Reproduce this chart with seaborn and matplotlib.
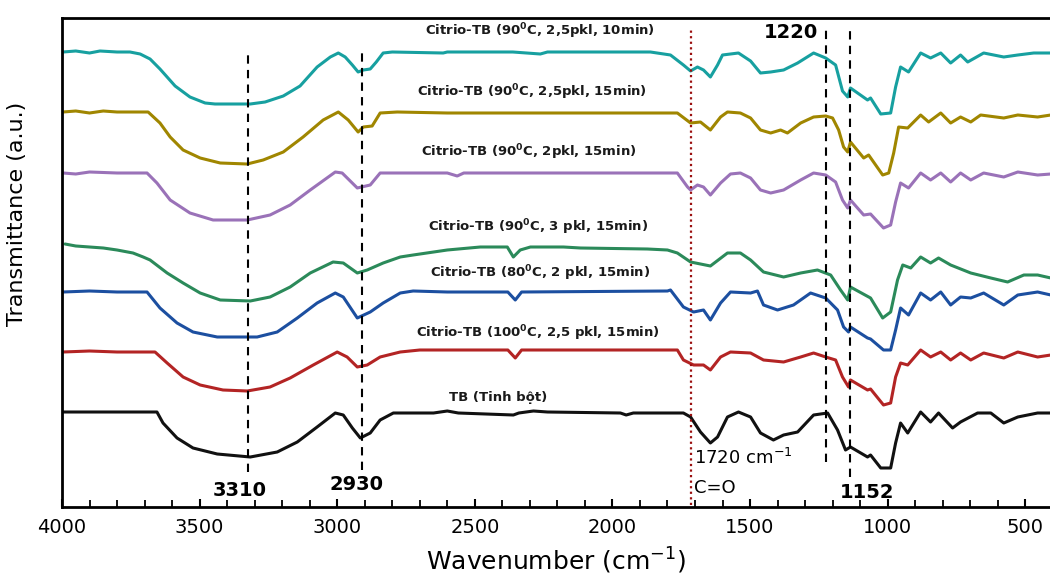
import numpy as np
import pandas as pd
import matplotlib
matplotlib.use("Agg")
import matplotlib.pyplot as plt
import seaborn as sns

# ---------------- data ----------------
wn_a = [3996, 3950, 3900, 3862, 3800, 3753, 3716, 3680, 3644, 3589, 3535, 3480, 3444, 3316, 3262, 3196, 3135, 3073, 3025, 2996, 2971, 2945, 2924, 2905, 2880, 2858, 2833, 2800, 2615, 2600, 2362, 2262, 2236, 1900, 1862, 1789, 1742, 1716, 1691, 1669, 1644, 1618, 1600, 1542, 1498, 1462, 1425, 1378, 1327, 1269, 1225, 1189, 1164, 1145, 1135, 1073, 1062, 1025, 989, 971, 953, 924, 880, 844, 807, 771, 735, 709, 651, 578, 527, 469, 407]
t_a = [455, 456, 454, 456, 455, 455, 453, 448, 438, 421, 410, 404, 403, 403, 405, 411, 421, 440, 450, 454, 450, 442, 435, 437, 438, 445, 454, 455, 454, 455, 455, 453, 455, 455, 455, 452, 442, 436, 440, 437, 430, 442, 452, 454, 446, 434, 435, 437, 444, 454, 449, 442, 416, 410, 419, 407, 409, 393, 394, 420, 440, 435, 454, 449, 454, 444, 452, 445, 454, 450, 452, 454, 454]

wn_b = [3996, 3950, 3900, 3850, 3800, 3687, 3644, 3607, 3560, 3498, 3425, 3327, 3269, 3196, 3124, 3051, 2996, 2960, 2924, 2905, 2873, 2844, 2782, 2600, 1800, 1764, 1716, 1680, 1644, 1607, 1582, 1535, 1498, 1462, 1425, 1389, 1364, 1316, 1269, 1225, 1200, 1178, 1160, 1145, 1135, 1087, 1069, 1018, 996, 978, 960, 927, 880, 851, 807, 771, 735, 698, 662, 578, 527, 455, 407]
t_b = [395, 396, 394, 396, 395, 395, 384, 370, 357, 349, 344, 343, 347, 355, 370, 387, 395, 387, 375, 380, 381, 394, 395, 394, 394, 394, 384, 385, 377, 390, 395, 394, 389, 377, 374, 377, 374, 384, 390, 391, 389, 377, 360, 355, 365, 349, 352, 332, 334, 354, 380, 379, 392, 385, 394, 384, 390, 385, 392, 389, 392, 390, 392]

wn_c = [3996, 3950, 3900, 3800, 3691, 3655, 3607, 3535, 3451, 3327, 3244, 3171, 3098, 3007, 2982, 2927, 2880, 2844, 2600, 2564, 2540, 1800, 1764, 1727, 1716, 1691, 1669, 1644, 1607, 1571, 1535, 1498, 1462, 1425, 1378, 1316, 1269, 1225, 1189, 1164, 1145, 1135, 1087, 1062, 1015, 989, 971, 953, 924, 880, 844, 807, 771, 735, 698, 651, 578, 527, 455, 407]
t_c = [334, 333, 335, 334, 334, 324, 307, 294, 287, 287, 292, 302, 317, 335, 334, 319, 322, 334, 334, 331, 334, 334, 334, 320, 317, 322, 320, 312, 324, 333, 334, 329, 317, 314, 317, 327, 334, 332, 325, 307, 299, 307, 292, 293, 279, 282, 305, 324, 319, 334, 327, 334, 325, 334, 327, 334, 330, 335, 332, 333]

wn_d = [3989, 3950, 3900, 3850, 3800, 3742, 3705, 3680, 3618, 3560, 3498, 3425, 3316, 3244, 3171, 3098, 3015, 2978, 2927, 2891, 2833, 2771, 2724, 2600, 2480, 2382, 2360, 2335, 2298, 2178, 2116, 1873, 1800, 1764, 1716, 1644, 1582, 1535, 1498, 1451, 1378, 1316, 1255, 1207, 1171, 1145, 1135, 1062, 1018, 989, 964, 945, 916, 880, 844, 815, 771, 698, 625, 564, 505, 455, 407]
t_d = [263, 261, 260, 259, 257, 254, 250, 247, 234, 224, 214, 207, 206, 210, 220, 234, 245, 244, 234, 237, 244, 250, 252, 257, 260, 260, 250, 257, 260, 260, 259, 258, 257, 254, 245, 241, 254, 254, 247, 235, 230, 234, 237, 232, 217, 207, 220, 209, 189, 195, 227, 242, 239, 250, 244, 249, 242, 234, 229, 225, 232, 232, 229]

wn_e = [3996, 3900, 3800, 3691, 3644, 3582, 3524, 3436, 3291, 3218, 3145, 3073, 3007, 2978, 2927, 2880, 2833, 2771, 2724, 2600, 2380, 2353, 2330, 1800, 1789, 1742, 1705, 1669, 1644, 1607, 1571, 1498, 1473, 1451, 1400, 1342, 1280, 1225, 1182, 1160, 1142, 1135, 1073, 1062, 1015, 989, 971, 953, 924, 880, 844, 807, 771, 735, 698, 651, 578, 527, 455, 407]
t_e = [215, 216, 215, 215, 199, 184, 175, 170, 170, 175, 189, 204, 214, 210, 189, 195, 204, 214, 216, 215, 215, 207, 215, 216, 217, 200, 195, 197, 187, 204, 215, 214, 216, 202, 197, 202, 214, 209, 197, 180, 175, 180, 169, 168, 157, 157, 177, 199, 192, 214, 207, 215, 202, 210, 209, 214, 202, 212, 215, 212]

wn_f = [3996, 3900, 3800, 3662, 3618, 3560, 3498, 3415, 3327, 3244, 3171, 3087, 3000, 2964, 2927, 2891, 2844, 2771, 2700, 2380, 2353, 2330, 1800, 1764, 1742, 1705, 1669, 1644, 1607, 1571, 1498, 1451, 1378, 1316, 1269, 1225, 1189, 1164, 1142, 1135, 1073, 1062, 1015, 989, 971, 953, 927, 880, 844, 807, 771, 735, 698, 651, 578, 527, 455, 407]
t_f = [155, 156, 155, 155, 144, 130, 122, 117, 116, 120, 129, 142, 155, 150, 140, 142, 150, 155, 157, 157, 149, 157, 157, 157, 147, 142, 142, 137, 150, 155, 154, 147, 145, 150, 154, 150, 147, 130, 120, 127, 117, 118, 102, 104, 130, 144, 142, 157, 150, 155, 147, 154, 147, 154, 149, 155, 150, 152]

wn_g = [3996, 3800, 3655, 3633, 3582, 3524, 3436, 3316, 3218, 3145, 3073, 3007, 2978, 2945, 2916, 2880, 2844, 2796, 2650, 2600, 2560, 2360, 2340, 2287, 2236, 1971, 1950, 1924, 1742, 1716, 1680, 1644, 1618, 1582, 1542, 1498, 1462, 1415, 1378, 1327, 1269, 1218, 1182, 1153, 1135, 1073, 1062, 1025, 989, 971, 953, 927, 880, 844, 815, 764, 735, 673, 625, 578, 527, 455, 407]
t_g = [95, 95, 95, 84, 69, 59, 53, 50, 55, 65, 80, 94, 92, 79, 69, 74, 87, 94, 94, 96, 94, 92, 94, 96, 95, 94, 92, 94, 94, 90, 75, 64, 70, 90, 95, 90, 74, 67, 72, 75, 92, 94, 77, 57, 60, 50, 52, 39, 39, 64, 84, 74, 95, 85, 94, 79, 85, 94, 94, 84, 90, 94, 94]

series_names = [
    "Citrio-TB (90$^{\\mathbf{0}}$C, 2,5pkl, 10min)",
    "Citrio-TB (90$^{\\mathbf{0}}$C, 2,5pkl, 15min)",
    "Citrio-TB (90$^{\\mathbf{0}}$C, 2pkl, 15min)",
    "Citrio-TB (90$^{\\mathbf{0}}$C, 3 pkl, 15min)",
    "Citrio-TB (80$^{\\mathbf{0}}$C, 2 pkl, 15min)",
    "Citrio-TB (100$^{\\mathbf{0}}$C, 2,5 pkl, 15min)",
    "TB (Tinh bột)",
]
series_wn = [wn_a, wn_b, wn_c, wn_d, wn_e, wn_f, wn_g]
series_t = [t_a, t_b, t_c, t_d, t_e, t_f, t_g]
series_colors = ["#17a0a0", "#a08600", "#9a72b8", "#2b8a5a", "#1c4fa0", "#b32424", "#111111"]
# label anchor (wavenumber, transmittance)
label_wn = [2262, 2291, 2305, 2269, 2262, 2269, 2415]
label_t = [466, 405, 345, 270, 224, 164, 103]

# marker lines: wavenumber, bottom, top
peak_wn = [3324, 2909, 1225, 1138]
peak_bottom = [35, 37, 45, 30]
peak_top = [455, 458, 477, 478]
co_wn = 1716

# ---------------- plot ----------------
sns.set_theme(style="white")
plt.rcParams["font.family"] = ["DejaVu Sans"]
plt.rcParams["text.color"] = "black"
plt.rcParams["axes.labelcolor"] = "black"
plt.rcParams["xtick.color"] = "black"

fig = plt.figure(figsize=(10.5, 5.79), dpi=100)
ax = fig.add_axes([62 / 1050, 72 / 579, 988 / 1050, 489 / 579])

for name, wn, t, c in zip(series_names, series_wn, series_t, series_colors):
    df = pd.DataFrame({"wn": wn, "T": t})
    sns.lineplot(data=df, x="wn", y="T", color=c, lw=2.2, ax=ax,
                 estimator=None, sort=False)

for name, x, y in zip(series_names, label_wn, label_t):
    ax.text(x, y, name, fontsize=9.5, fontweight="bold", ha="center",
            va="bottom", color="#1a1a1a")

for x, b, t in zip(peak_wn, peak_bottom, peak_top):
    ax.vlines(x, b, t, colors="black", linestyles=(0, (4, 3)), lw=1.5)
ax.vlines(co_wn, 2, 479, colors="#9b1010", linestyles=(0, (1, 1.5)), lw=1.6)

ax.text(3355, 17, "3310", fontsize=14, fontweight="bold", ha="center", va="center")
ax.text(2930, 23, "2930", fontsize=14, fontweight="bold", ha="center", va="center")
ax.text(1353, 474, "1220", fontsize=14, fontweight="bold", ha="center", va="center")
ax.text(1073, 15, "1152", fontsize=14, fontweight="bold", ha="center", va="center")
ax.text(1705, 49, "1720 cm$^{-1}$", fontsize=13, ha="left", va="center")
ax.text(1705, 19, "C=O", fontsize=13, ha="left", va="center")

ax.set_xlim(4000, 410)
ax.set_ylim(0, 489)
ax.set_xticks([4000, 3500, 3000, 2500, 2000, 1500, 1000, 500])
ax.set_xticks(np.arange(4000, 400, -100), minor=True)
ax.set_yticks([])
ax.tick_params(axis="x", which="major", direction="in", length=6, width=1.5,
               labelsize=14, pad=8, bottom=True, colors="black")
ax.tick_params(axis="x", which="minor", direction="in", length=5, width=1.3,
               bottom=True, colors="black")
ax.set_xlabel("Wavenumber (cm$^{-1}$)", fontsize=18, labelpad=6, color="black")
ax.set_ylabel("Transmittance (a.u.)", fontsize=16, color="black")
ax.yaxis.set_label_coords(-0.035, 0.6)
for s in ["left", "bottom", "top"]:
    ax.spines[s].set_color("black")
    ax.spines[s].set_linewidth(2)
ax.spines["right"].set_visible(False)

fig.savefig("out.png", dpi=100)
